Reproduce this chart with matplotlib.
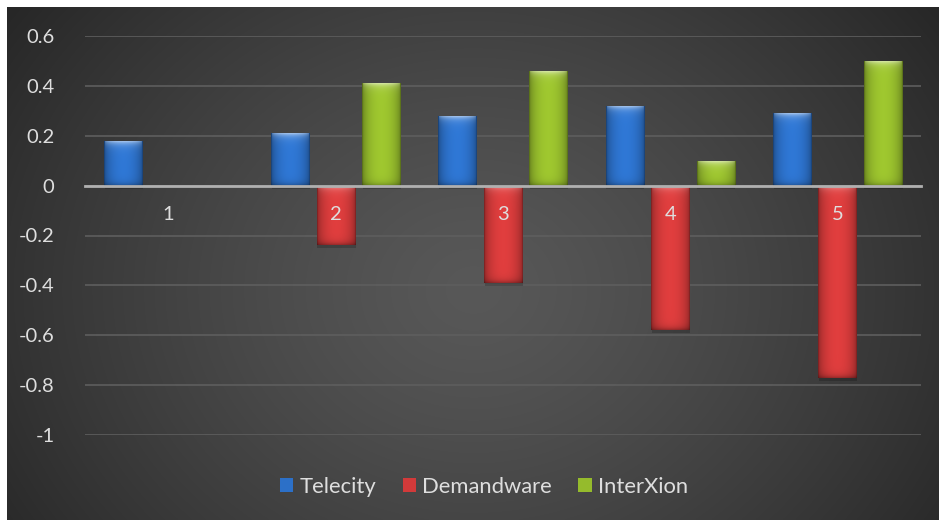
import numpy as np
import matplotlib
matplotlib.use("Agg")
import matplotlib.pyplot as plt
from matplotlib.colors import to_rgb
from matplotlib.ticker import FuncFormatter

plt.rcParams['font.family'] = ['Lato', 'DejaVu Sans']
plt.rcParams['axes.unicode_minus'] = False

categories = ['1', '2', '3', '4', '5']
series_names = ['Telecity', 'Demandware', 'InterXion']
telecity = [0.18, 0.21, 0.28, 0.32, 0.29]
demandware = [0.0, -0.24, -0.39, -0.58, -0.77]
interxion = [0.0, 0.41, 0.46, 0.10, 0.50]
y_ticks = [-1, -0.8, -0.6, -0.4, -0.2, 0, 0.2, 0.4, 0.6]

colors = ['#2c70c8', '#d23a3a', '#95bb2c']
text_color = '#dedede'

W, H = 939, 520
fig = plt.figure(figsize=(W / 100, H / 100), dpi=100)
fig.patch.set_facecolor('white')

# radial gradient background
bg = fig.add_axes([7 / W, 0, (W - 7) / W, (H - 7) / H], zorder=-5)
bg.set_axis_off()
ny, nx = 300, 540
yy, xx = np.mgrid[0:ny, 0:nx]
cx, cy = nx * 0.50, ny * 0.55
r = np.sqrt(((xx - cx) / (nx * 0.62)) ** 2 + ((yy - cy) / (ny * 0.95)) ** 2)
r = np.clip(r, 0, 1)
inner, outer = 0.345, 0.15
val = inner + (outer - inner) * r ** 1.3
img = np.dstack([val, val, val])
bg.imshow(img, aspect='auto', extent=(0, 1, 0, 1), interpolation='bilinear')
bg.set_xlim(0, 1)
bg.set_ylim(0, 1)

ax = fig.add_axes([85 / W, (H - 435) / H, 836 / W, 399 / H])
ax.set_facecolor('none')
ax.set_xlim(-0.5, len(categories) - 0.5)
ax.set_ylim(-1, 0.6)

x = np.arange(len(categories))
bw = 0.228
step = 0.272
all_series = [telecity, demandware, interxion]
px_per_unit = 399 / 1.6
bars_all = []
for i, (vals, c, name) in enumerate(zip(all_series, colors, series_names)):
    bars = ax.bar(x + (i - 1) * step, vals, width=bw, color=c, label=name, zorder=2,
                  edgecolor='none')
    bars_all.append((bars, c))

# bevel-like gradient fill for each bar
for bars, c in bars_all:
    base = np.array(to_rgb(c))
    for p in bars:
        h = p.get_height()
        if abs(h) < 1e-9:
            continue
        x0, w = p.get_x(), p.get_width()
        y0 = p.get_y()
        hp = abs(h) * px_per_unit
        nrow = max(int(hp), 2)
        ncol = 38
        u = np.linspace(0, 1, ncol)
        horiz = 0.62 + 0.45 * np.sin(np.pi * u) ** 0.45
        rows = np.arange(nrow) + 0.5  # px from top
        top_hl = np.exp(-rows / 3.5) * 0.6
        bot_dk = np.exp(-(nrow - rows) / 3.0) * 0.35
        arr = base[None, None, :] * horiz[None, :, None] * (1 - bot_dk)[:, None, None]
        hl = top_hl[:, None] * np.sin(np.pi * u)[None, :] ** 0.3
        arr = arr + (1 - arr) * hl[:, :, None]
        arr = np.clip(arr, 0, 1)
        top = max(y0, y0 + h)
        bot = min(y0, y0 + h)
        im = ax.imshow(arr, extent=(x0, x0 + w, bot, top), aspect='auto',
                       origin='upper', zorder=2.1, interpolation='bilinear')
        im.set_clip_path(p)
        # subtle shadow below
        ax.bar(x0 + w / 2 + 0.004, h, width=w, bottom=y0 - 0.012,
               color='black', alpha=0.18, zorder=1.9, edgecolor='none')

ax.set_xlim(-0.5, len(categories) - 0.5)
ax.set_ylim(-1, 0.6)

ax.set_yticks(y_ticks)
ax.yaxis.set_major_formatter(FuncFormatter(lambda v, pos: f"{v:g}" if abs(v) > 1e-9 else "0"))
ax.grid(axis='y', color='#5e5e5e', linewidth=1.2)
ax.set_axisbelow(True)
ax.xaxis.set_zorder(4)

ax.set_xticks(x)
ax.set_xticklabels(categories)
ax.tick_params(axis='x', length=0, pad=15, labelsize=14.5, labelcolor=text_color)
ax.tick_params(axis='y', length=0, pad=22, labelsize=14.5, labelcolor=text_color)

for s in ['top', 'right', 'left']:
    ax.spines[s].set_visible(False)
ax.spines['bottom'].set_position(('data', 0))
ax.spines['bottom'].set_color('#b0b0b0')
ax.spines['bottom'].set_linewidth(2)
ax.spines['bottom'].set_zorder(3)

leg = ax.legend(loc='center', bbox_to_anchor=(0.5155, (H - 487) / H), bbox_transform=fig.transFigure,
                ncol=3, frameon=False, fontsize=15.8, labelcolor=text_color,
                handlelength=0.6, handleheight=0.6, handletextpad=0.3, columnspacing=1.2)

fig.savefig('out.png', dpi=100, facecolor=fig.get_facecolor())
